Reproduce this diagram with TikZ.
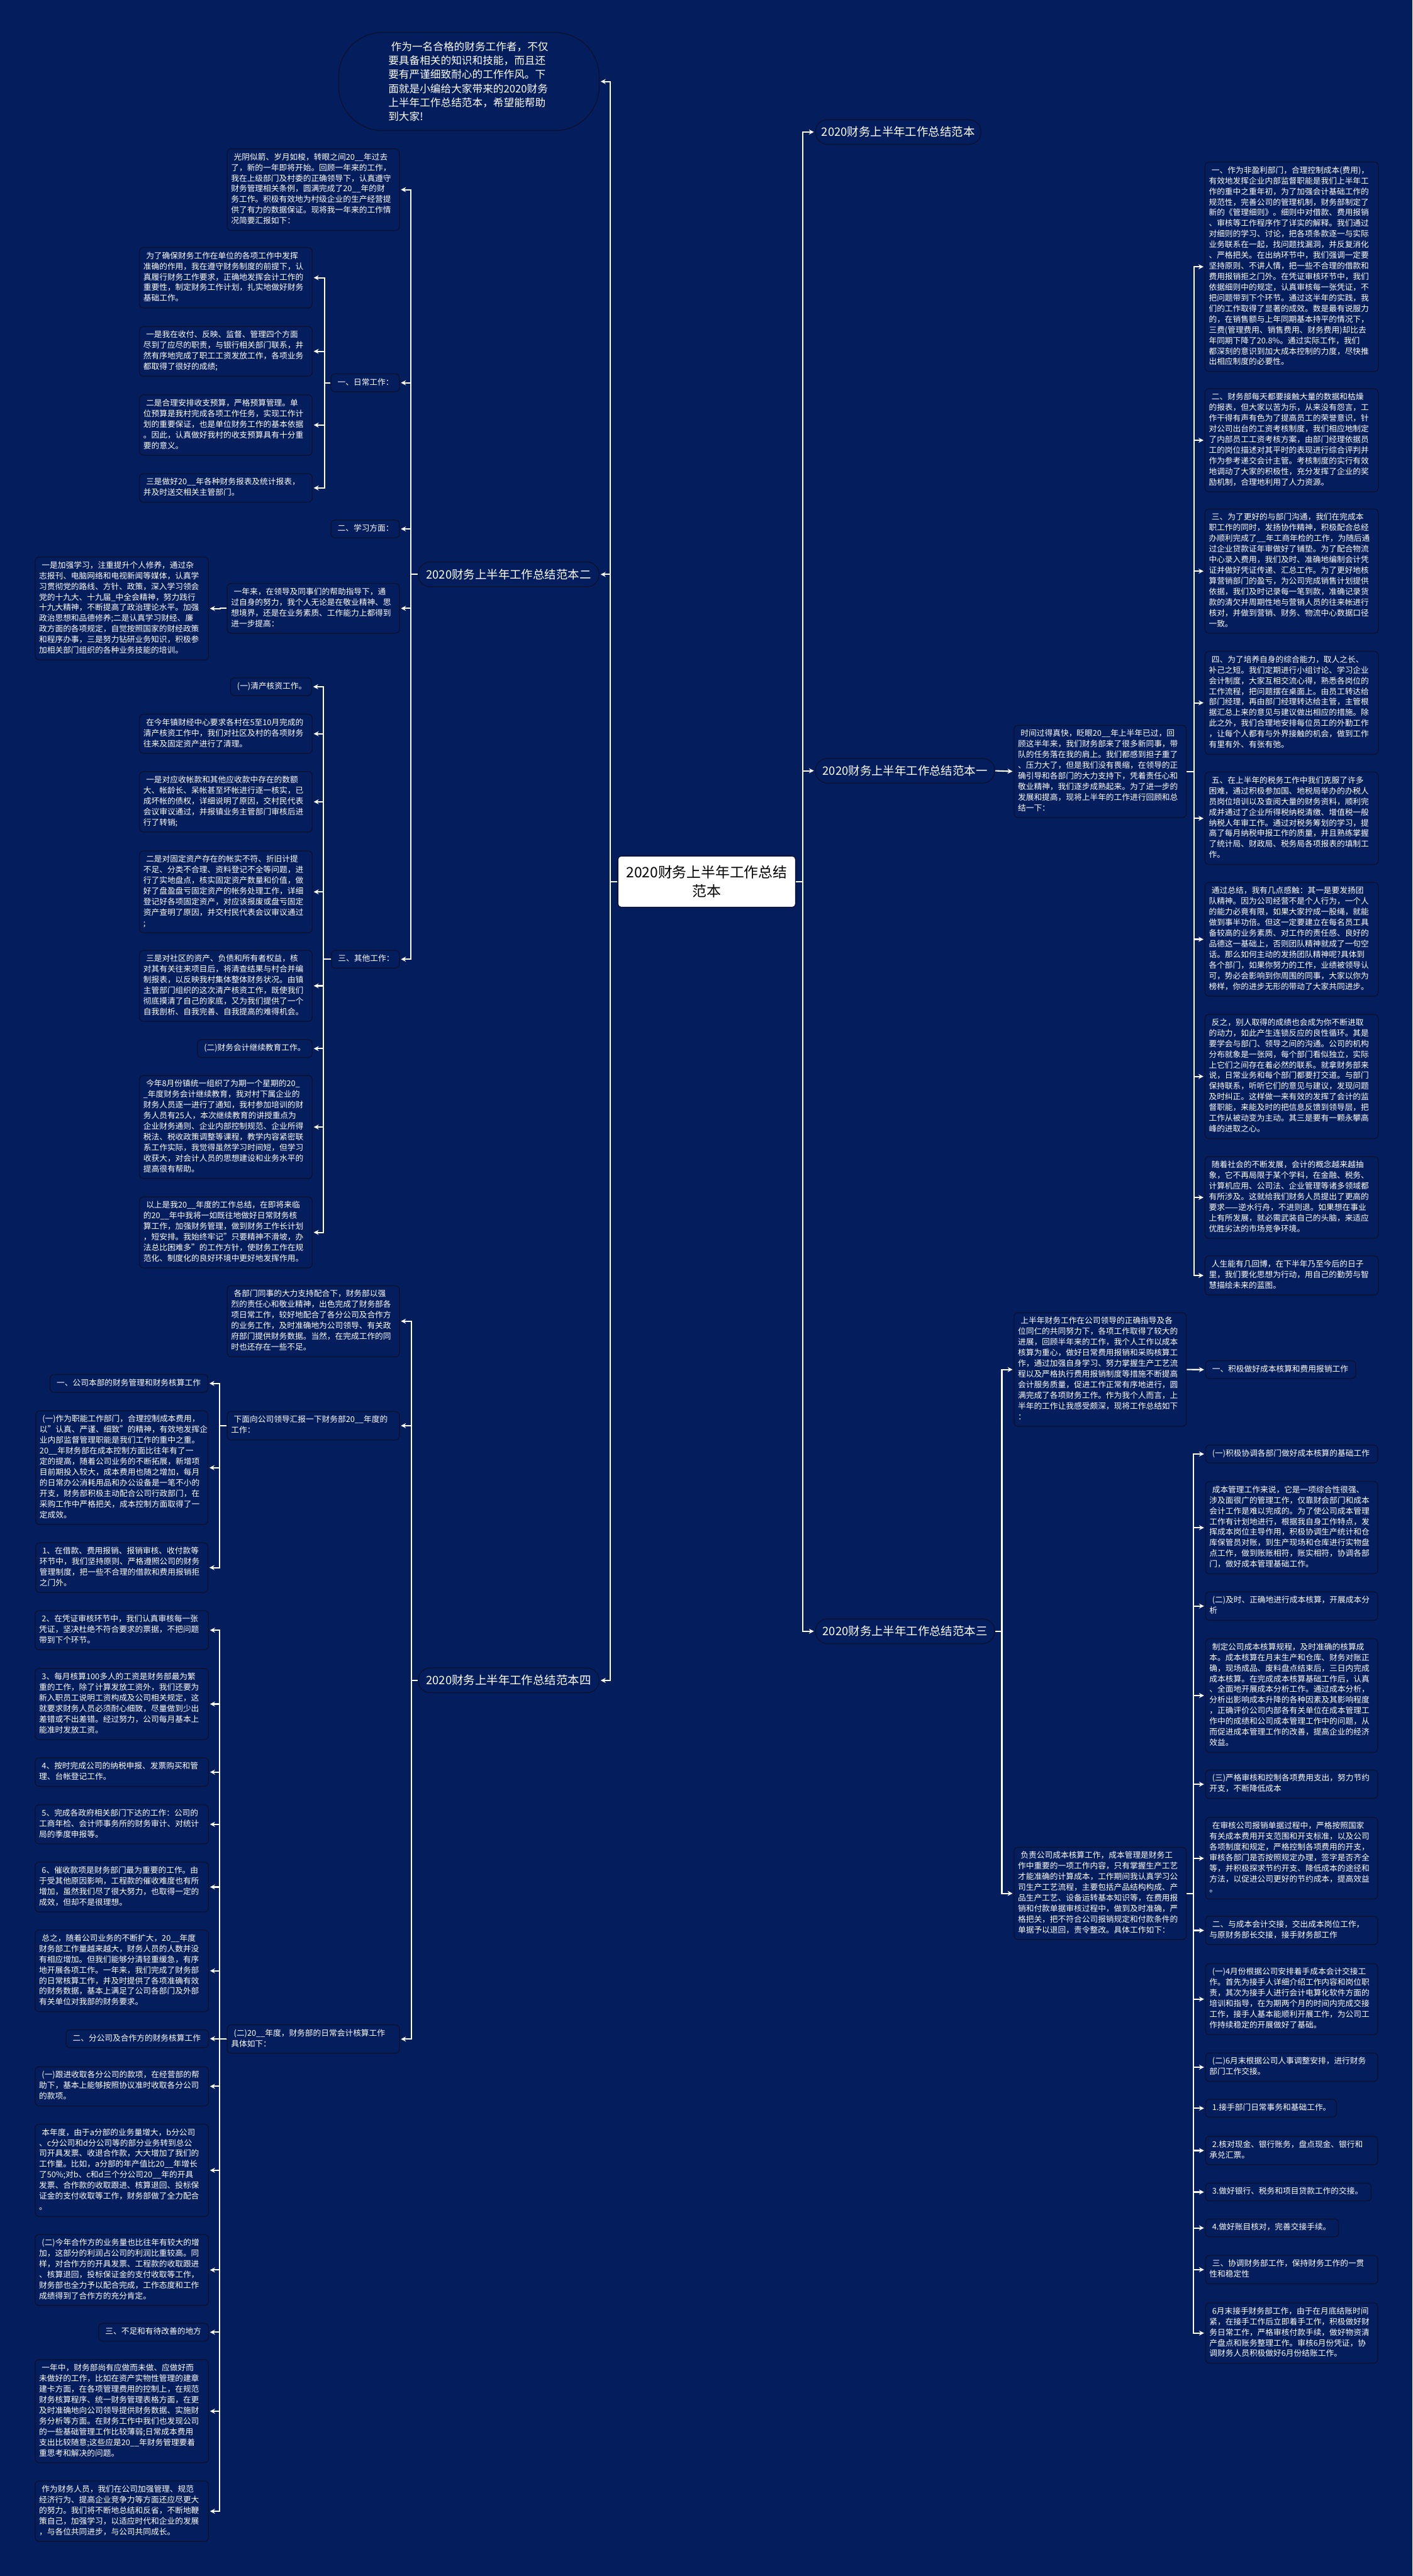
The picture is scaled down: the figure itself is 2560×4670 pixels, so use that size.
\documentclass[tikz,border=0pt]{standalone}
\usepackage{fontspec}
\setmainfont{Noto Sans CJK SC}
\usetikzlibrary{arrows.meta}
\definecolor{bg}{HTML}{041D5C}
\definecolor{bd}{HTML}{0B1234}
\newcommand\myind{\hspace*{5pt}}
\setlength\parindent{0pt}
\begin{document}
\begin{tikzpicture}[x=1pt,y=-1pt,
  box/.style={draw=bd, line width=1.6pt, rounded corners=7pt, fill=bg, text=white,
    font=\fontsize{14.5}{19.3}\selectfont, align=left, inner xsep=7pt, inner ysep=6.5pt,
    anchor=north west, execute at begin node=\strut, execute at end node=\strut},
  tw/.style={text width=#1pt},
  branch/.style={draw=bd, line width=1.6pt, rounded corners=22pt, fill=bg, text=white,
    font=\fontsize{21}{25}\selectfont, anchor=north west, minimum height=45pt, inner sep=0pt},
  conn/.style={draw=white, line width=2.4pt, -{Stealth[length=9pt,width=9pt]}, shorten >=2pt}
]
\fill[bg] (0,0) rectangle (2560,4670);
\useasboundingbox (0,0) rectangle (2560,4670);

% ---------- centre and branches ----------
\node[draw=bd, line width=1.6pt, rounded corners=6pt, fill=white, text=black,
  font=\fontsize{26}{34}\selectfont, align=center, anchor=north west,
  minimum width=322pt, minimum height=93pt] (center) at (1119,1551)
  {2020财务上半年工作总结\\范本};

\node[draw=bd, line width=1.6pt, rounded corners=80pt, fill=bg, text=white,
  font=\fontsize{19}{25.5}\selectfont, align=left, text width=292pt,
  minimum width=472pt, minimum height=178pt, anchor=north west] (ell) at (613,58)
  {\myind 作为一名合格的财务工作者，不仅\\要具备相关的知识和技能，而且还\\要有严谨细致耐心的工作作风。下\\面就是小编给大家带来的2020财务\\上半年工作总结范本，希望能帮助\\到大家!};

\node[branch, minimum width=328pt] (fb2) at (757,1018) {2020财务上半年工作总结范本二};
\node[branch, minimum width=328pt] (fb4) at (757,3023) {2020财务上半年工作总结范本四};
\node[branch, minimum width=300pt] (fb0) at (1477,216) {2020财务上半年工作总结范本};
\node[branch, minimum width=325pt] (fb1) at (1477,1374) {2020财务上半年工作总结范本一};
\node[branch, minimum width=325pt] (fb3) at (1477,2934) {2020财务上半年工作总结范本三};

% ---------- 范本二 ----------
\node[box,tw=298] (gy) at (411,269) {\myind 光阴似箭、岁月如梭，转眼之间20\_\_年过去\\了，新的一年即将开始。回顾一年来的工作，\\我在上级部门及村委的正确领导下，认真遵守\\财务管理相关条例，圆满完成了20\_\_年的财\\务工作。积极有效地为村级企业的生产经营提\\供了有力的数据保证。现将我一年来的工作情\\况简要汇报如下：};
\node[box,tw=110] (rc) at (599,677) {\myind 一、日常工作：};
\node[box,tw=110] (xx) at (599,942) {\myind 二、学习方面：};
\node[box,tw=298] (ynl) at (411,1057) {\myind 一年来，在领导及同事们的帮助指导下，通\\过自身的努力，我个人无论是在敬业精神、思\\想境界，还是在业务素质、工作能力上都得到\\进一步提高：};
\node[box,tw=300] (jq) at (63,1009) {\myind 一是加强学习，注重提升个人修养，通过杂\\志报刊、电脑网络和电视新闻等媒体，认真学\\习贯彻党的路线、方针、政策，深入学习领会\\党的十九大、十九届\_中全会精神，努力践行\\十九大精神，不断提高了政治理论水平。加强\\政治思想和品德修养;二是认真学习财经、廉\\政方面的各项规定，自觉按照国家的财经政策\\和程序办事，三是努力钻研业务知识，积极参\\加相关部门组织的各种业务技能的培训。};
\node[box,tw=109] (qt) at (600,1722) {\myind 三、其他工作：};

\node[box,tw=299] (wl) at (252,448) {\myind 为了确保财务工作在单位的各项工作中发挥\\准确的作用，我在遵守财务制度的前提下，认\\真履行财务工作要求，正确地发挥会计工作的\\重要性，制定财务工作计划，扎实地做好财务\\基础工作。};
\node[box,tw=299] (ys) at (252,591) {\myind 一是我在收付、反映、监督、管理四个方面\\尽到了应尽的职责，与银行相关部门联系，井\\然有序地完成了职工工资发放工作，各项业务\\都取得了很好的成绩;};
\node[box,tw=299] (eh) at (252,715) {\myind 二是合理安排收支预算，严格预算管理。单\\位预算是我村完成各项工作任务，实现工作计\\划的重要保证，也是单位财务工作的基本依据\\。因此，认真做好我村的收支预算具有十分重\\要的意义。};
\node[box,tw=299] (sz) at (252,858) {\myind 三是做好20\_\_年各种财务报表及统计报表，\\并及时送交相关主管部门。};

\node[box,tw=133] (qc) at (417,1228) {\myind (一)清产核资工作。};
\node[box,tw=299] (jn) at (252,1294) {\myind 在今年镇财经中心要求各村在5至10月完成的\\清产核资工作中，我们对社区及村的各项财务\\往来及固定资产进行了清理。};
\node[box,tw=299] (ysd) at (252,1398) {\myind 一是对应收帐款和其他应收款中存在的数额\\大、帐龄长、呆帐甚至坏帐进行逐一核实，已\\成坏帐的债权，详细说明了原因，交村民代表\\会议审议通过，并报镇业务主管部门审核后进\\行了转销;};
\node[box,tw=299] (esd) at (252,1542) {\myind 二是对固定资产存在的帐实不符、折旧计提\\不足、分类不合理、资料登记不全等问题，进\\行了实地盘点，核实固定资产数量和价值，做\\好了盘盈盘亏固定资产的帐务处理工作，详细\\登记好各项固定资产，对应该报废或盘亏固定\\资产查明了原因，并交村民代表会议审议通过\\;};
\node[box,tw=299] (ssd) at (252,1722) {\myind 三是对社区的资产、负债和所有者权益，核\\对其有关往来项目后，将清查结果与村合并编\\制报表，以反映我村集体整体财务状况。由镇\\主管部门组织的这次清产核资工作，既使我们\\彻底摸清了自己的家底，又为我们提供了一个\\自我剖析、自我完善、自我提高的难得机会。};
\node[box,tw=194] (ej) at (357,1884) {\myind (二)财务会计继续教育工作。};
\node[box,tw=299] (jn8) at (252,1949) {\myind 今年8月份镇统一组织了为期一个星期的20\_\\\_年度财务会计继续教育，我对村下属企业的\\财务人员逐一进行了通知，我村参加培训的财\\务人员有25人，本次继续教育的讲授重点为\\企业财务通则、企业内部控制规范、企业所得\\税法、税收政策调整等课程，教学内容紧密联\\系工作实际，我觉得虽然学习时间短，但学习\\收获大，对会计人员的思想建设和业务水平的\\提高很有帮助。};
\node[box,tw=299] (ysw) at (252,2169) {\myind 以上是我20\_\_年度的工作总结，在即将来临\\的20\_\_年中我将一如既往地做好日常财务核\\算工作，加强财务管理，做到财务工作长计划\\，短安排。我始终牢记"只要精神不滑坡，办\\法总比困难多"的工作方针，使财务工作在规\\范化、制度化的良好环境中更好地发挥作用。};

% ---------- 范本四 ----------
\node[box,tw=298] (gbm) at (411,2330) {\myind 各部门同事的大力支持配合下，财务部以强\\烈的责任心和敬业精神，出色完成了财务部各\\项日常工作，较好地配合了各分公司及合作方\\的业务工作，及时准确地为公司领导、有关政\\府部门提供财务数据。当然，在完成工作的同\\时也还存在一些不足。};
\node[box,tw=298] (xmx) at (411,2558) {\myind 下面向公司领导汇报一下财务部20\_\_年度的\\工作：};
\node[box,tw=298] (ernd) at (411,3670) {\myind (二)20\_\_年度，财务部的日常会计核算工作\\具体如下：};

\node[box,tw=272] (gsbb) at (90,2491) {\myind 一、公司本部的财务管理和财务核算工作};
\node[box,tw=298] (zn) at (64,2557) {\myind (一)作为职能工作部门，合理控制成本费用，\\以"认真、严谨、细致"的精神，有效地发挥企\\业内部监督管理职能是我们工作的重中之重。\\20\_\_年财务部在成本控制方面比往年有了一\\定的提高，随着公司业务的不断拓展，新增项\\目前期投入较大，成本费用也随之增加，每月\\的日常办公消耗用品和办公设备是一笔不小的\\开支，财务部积极主动配合公司行政部门，在\\采购工作中严格把关，成本控制方面取得了一\\定成效。};
\node[box,tw=298] (j1) at (64,2796) {\myind 1、在借款、费用报销、报销审核、收付款等\\环节中，我们坚持原则、严格遵照公司的财务\\管理制度，把一些不合理的借款和费用报销拒\\之门外。};

\node[box,tw=300] (j2) at (63,2919) {\myind 2、在凭证审核环节中，我们认真审核每一张\\凭证，坚决杜绝不符合要求的票据，不把问题\\带到下个环节。};
\node[box,tw=300] (j3) at (63,3024) {\myind 3、每月核算100多人的工资是财务部最为繁\\重的工作，除了计算发放工资外，我们还要为\\新入职员工说明工资构成及公司相关规定，这\\就要求财务人员必须耐心细致，尽量做到少出\\差错或不出差错。经过努力，公司每月基本上\\能准时发放工资。};
\node[box,tw=300] (j4) at (63,3186) {\myind 4、按时完成公司的纳税申报、发票购买和管\\理、台帐登记工作。};
\node[box,tw=300] (j5) at (63,3271) {\myind 5、完成各政府相关部门下达的工作：公司的\\工商年检、会计师事务所的财务审计、对统计\\局的季度申报等。};
\node[box,tw=300] (j6) at (63,3375) {\myind 6、催收款项是财务部门最为重要的工作。由\\于受其他原因影响，工程款的催收难度也有所\\增加，虽然我们尽了很大努力，也取得一定的\\成效，但却不是很理想。};
\node[box,tw=300] (zz) at (63,3498) {\myind 总之，随着公司业务的不断扩大，20\_\_年度\\财务部工作量越来越大，财务人员的人数并没\\有相应增加。但我们能够分清轻重缓急，有序\\地开展各项工作。一年来，我们完成了财务部\\的日常核算工作，并及时提供了各项准确有效\\的财务数据，基本上满足了公司各部门及外部\\有关单位对我部的财务要求。};
\node[box,tw=244] (fgs) at (119,3679) {\myind 二、分公司及合作方的财务核算工作};
\node[box,tw=300] (gj) at (63,3746) {\myind (一)跟进收取各分公司的款项，在经营部的帮\\助下，基本上能够按照协议准时收取各分公司\\的款项。};
\node[box,tw=300] (bnd) at (63,3850) {\myind 本年度，由于a分部的业务量增大，b分公司\\、c分公司和d分公司等的部分业务转到总公\\司开具发票、收退合作款，大大增加了我们的\\工作量。比如，a分部的年产值比20\_\_年增长\\了50\%;对b、c和d三个分公司20\_\_年的开具\\发票、合作款的收取跟进、核算退回、投标保\\证金的支付收取等工作，财务部做了全力配合\\。};
\node[box,tw=300] (hzf) at (63,4050) {\myind (二)今年合作方的业务量也比往年有较大的增\\加，这部分的利润占公司的利润比重较高。同\\样，对合作方的开具发票、工程款的收取跟进\\、核算退回，投标保证金的支付收取等工作，\\财务部也全力予以配合完成，工作态度和工作\\成绩得到了合作方的充分肯定。};
\node[box,tw=185] (bz) at (178,4211) {\myind 三、不足和有待改善的地方};
\node[box,tw=300] (ynz) at (63,4277) {\myind 一年中，财务部尚有应做而未做、应做好而\\未做好的工作，比如在资产实物性管理的建章\\建卡方面，在各项管理费用的控制上，在规范\\财务核算程序、统一财务管理表格方面，在更\\及时准确地向公司领导提供财务数据、实施财\\务分析等方面。在财务工作中我们也发现公司\\的一些基础管理工作比较薄弱;日常成本费用\\支出比较随意;这些应是20\_\_年财务管理要着\\重思考和解决的问题。};
\node[box,tw=300] (cw) at (63,4497) {\myind 作为财务人员，我们在公司加强管理、规范\\经济行为、提高企业竞争力等方面还应尽更大\\的努力。我们将不断地总结和反省，不断地鞭\\策自己，加强学习，以适应时代和企业的发展\\，与各位共同进步，与公司共同成长。};

% ---------- 范本一 ----------
\node[box,tw=298] (sj) at (1837,1314) {\myind 时间过得真快，眨眼20\_\_年上半年已过，回\\顾这半年来，我们财务部来了很多新同事，带\\队的任务落在我的肩上。我们都感到担子重了\\、压力大了，但是我们没有畏缩，在领导的正\\确引导和各部门的大力支持下，凭着责任心和\\敬业精神，我们逐步成熟起来。为了进一步的\\发展和提高，现将上半年的工作进行回顾和总\\结一下：};
\node[box,tw=300] (r1) at (2183,293) {\myind 一、作为非盈利部门，合理控制成本(费用)，\\有效地发挥企业内部监督职能是我们上半年工\\作的重中之重年初，为了加强会计基础工作的\\规范性，完善公司的管理机制，财务部制定了\\新的《管理细则》。细则中对借款、费用报销\\、审核等工作程序作了详实的解释。我们通过\\对细则的学习、讨论，把各项条款逐一与实际\\业务联系在一起，找问题找漏洞，并反复消化\\、严格把关。在出纳环节中，我们强调一定要\\坚持原则、不讲人情，把一些不合理的借款和\\费用报销拒之门外。在凭证审核环节中，我们\\依据细则中的规定，认真审核每一张凭证，不\\把问题带到下个环节。通过这半年的实践，我\\们的工作取得了显著的成效。数是最有说服力\\的，在销售额与上年同期基本持平的情况下，\\三费(管理费用、销售费用、财务费用)却比去\\年同期下降了20.8\%。通过实际工作，我们\\都深刻的意识到加大成本控制的力度，尽快推\\出相应制度的必要性。};
\node[box,tw=300] (r2) at (2183,704) {\myind 二、财务部每天都要接触大量的数据和枯燥\\的报表，但大家以苦为乐，从来没有怨言，工\\作干得有声有色为了提高员工的荣誉意识，针\\对公司出台的工资考核制度，我们相应地制定\\了内部员工工资考核方案，由部门经理依据员\\工的岗位描述对其平时的表现进行综合评判并\\作为参考递交会计主管。考核制度的实行有效\\地调动了大家的积极性，充分发挥了企业的奖\\励机制，合理地利用了人力资源。};
\node[box,tw=300] (r3) at (2183,922) {\myind 三、为了更好的与部门沟通，我们在完成本\\职工作的同时，发扬协作精神，积极配合总经\\办顺利完成了\_\_年工商年检的工作，为随后通\\过企业贷款证年审做好了铺垫。为了配合物流\\中心录入费用，我们及时、准确地编制会计凭\\证并做好凭证传递、汇总工作。为了更好地核\\算营销部门的盈亏，为公司完成销售计划提供\\依据，我们及时记录每一笔到款，准确记录货\\款的清欠并周期性地与营销人员的往来帐进行\\核对，并做到营销、财务、物流中心数据口径\\一致。};
\node[box,tw=300] (r4) at (2183,1180) {\myind 四、为了培养自身的综合能力，取人之长、\\补己之短。我们定期进行小组讨论、学习企业\\会计制度，大家互相交流心得，熟悉各岗位的\\工作流程，把问题摆在桌面上。由员工转达给\\部门经理，再由部门经理转达给主管，主管根\\据汇总上来的意见与建议做出相应的措施。除\\此之外，我们合理地安排每位员工的外勤工作\\，让每个人都有与外界接触的机会，做到工作\\有里有外、有张有弛。};
\node[box,tw=300] (r5) at (2183,1399) {\myind 五、在上半年的税务工作中我们克服了许多\\困难，通过积极参加国、地税局举办的办税人\\员岗位培训以及查阅大量的财务资料，顺利完\\成并通过了企业所得税纳税清缴、增值税一般\\纳税人年审工作。通过对税务筹划的学习，提\\高了每月纳税申报工作的质量，并且熟练掌握\\了统计局、财政局、税务局各项报表的填制工\\作。};
\node[box,tw=300] (r6) at (2183,1599) {\myind 通过总结，我有几点感触：其一是要发扬团\\队精神。因为公司经营不是个人行为，一个人\\的能力必竟有限，如果大家拧成一股绳，就能\\做到事半功倍。但这一定要建立在每名员工具\\备较高的业务素质、对工作的责任感、良好的\\品德这一基础上，否则团队精神就成了一句空\\话。那么如何主动的发扬团队精神呢?具体到\\各个部门，如果你努力的工作，业绩被领导认\\可，势必会影响到你周围的同事，大家以你为\\榜样，你的进步无形的带动了大家共同进步。};
\node[box,tw=300] (r7) at (2183,1838) {\myind 反之，别人取得的成绩也会成为你不断进取\\的动力，如此产生连锁反应的良性循环。其是\\要学会与部门、领导之间的沟通。公司的机构\\分布就象是一张网，每个部门看似独立，实际\\上它们之间存在着必然的联系。就拿财务部来\\说，日常业务和每个部门都要打交道。与部门\\保持联系，听听它们的意见与建议，发现问题\\及时纠正。这样做一来有效的发挥了会计的监\\督职能，来能及时的把信息反馈到领导层，把\\工作从被动变为主动。其三是要有一颗永攀高\\峰的进取之心。};
\node[box,tw=300] (r8) at (2183,2096) {\myind 随着社会的不断发展，会计的概念越来越抽\\象，它不再局限于某个学科，在金融、税务、\\计算机应用、公司法、企业管理等诸多领域都\\有所涉及。这就给我们财务人员提出了更高的\\要求——逆水行舟，不进则退。如果想在事业\\上有所发展，就必需武装自己的头脑，来适应\\优胜劣汰的市场竞争环境。};
\node[box,tw=300] (r9) at (2183,2276) {\myind 人生能有几回博，在下半年乃至今后的日子\\里，我们要化思想为行动，用自己的勤劳与智\\慧描绘未来的蓝图。};

% ---------- 范本三 ----------
\node[box,tw=298] (sbn) at (1837,2379) {\myind 上半年财务工作在公司领导的正确指导及各\\位同仁的共同努力下，各项工作取得了较大的\\进展，回顾半年来的工作，我个人工作以成本\\核算为重心，做好日常费用报销和采购核算工\\作，通过加强自身学习、努力掌握生产工艺流\\程以及严格执行费用报销制度等措施不断提高\\会计服务质量，促进工作正常有序地进行，圆\\满完成了各项财务工作。作为我个人而言，上\\半年的工作让我感受颇深，现将工作总结如下\\：};
\node[box,tw=258] (jj) at (2184,2466) {\myind 一、积极做好成本核算和费用报销工作};
\node[box,tw=298] (fz) at (1837,3348) {\myind 负责公司成本核算工作，成本管理是财务工\\作中重要的一项工作内容，只有掌握生产工艺\\才能准确的计算成本，工作期间我认真学习公\\司生产工艺流程，主要包括产品结构构成、产\\品生产工艺、设备运转基本知识等，在费用报\\销和付款单据审核过程中，做到及时准确，严\\格把关，把不符合公司报销规定和付款条件的\\单据予以退回，责令整改。具体工作如下：};

\node[box,tw=298] (c1) at (2184,2619) {\myind (一)积极协调各部门做好成本核算的基础工作};
\node[box,tw=298] (c2) at (2184,2685) {\myind 成本管理工作来说，它是一项综合性很强、\\涉及面很广的管理工作，仅靠财会部门和成本\\会计工作是难以完成的。为了使公司成本管理\\工作有计划地进行，根据我自身工作特点，发\\挥成本岗位主导作用，积极协调生产统计和仓\\库保管员对账，到生产现场和仓库进行实物盘\\点工作，做到账账相符，账实相符，协调各部\\门，做好成本管理基础工作。};
\node[box,tw=298] (c3) at (2184,2885) {\myind (二)及时、正确地进行成本核算，开展成本分\\析};
\node[box,tw=298] (c4) at (2184,2970) {\myind 制定公司成本核算规程，及时准确的核算成\\本。成本核算在月末生产和仓库、财务对账正\\确，现场成品、废料盘点结束后，三日内完成\\成本核算。在完成成本核算基础工作后，认真\\、全面地开展成本分析工作。通过成本分析，\\分析出影响成本升降的各种因素及其影响程度\\，正确评价公司内部各有关单位在成本管理工\\作中的成绩和公司成本管理工作中的问题，从\\而促进成本管理工作的改善，提高企业的经济\\效益。};
\node[box,tw=298] (c5) at (2184,3208) {\myind (三)严格审核和控制各项费用支出，努力节约\\开支，不断降低成本};
\node[box,tw=298] (c6) at (2184,3294) {\myind 在审核公司报销单据过程中，严格按照国家\\有关成本费用开支范围和开支标准，以及公司\\各项制度和规定，严格控制各项费用的开支，\\审核各部门是否按照规定办理，签字是否齐全\\等，并积极探求节约开支、降低成本的途径和\\方法，以促进公司更好的节约成本，提高效益\\。};
\node[box,tw=298] (c7) at (2184,3473) {\myind 二、与成本会计交接，交出成本岗位工作，\\与原财务部长交接，接手财务部工作};
\node[box,tw=298] (c8) at (2184,3559) {\myind (一)4月份根据公司安排着手成本会计交接工\\作。首先为接手人详细介绍工作内容和岗位职\\责，其次为接手人进行会计电算化软件方面的\\培训和指导，在为期两个月的时间内完成交接\\工作，接手人基本能顺利开展工作，为公司工\\作持续稳定的开展做好了基础。};
\node[box,tw=298] (c9) at (2184,3721) {\myind (二)6月末根据公司人事调整安排，进行财务\\部门工作交接。};
\node[box,tw=223] (c10) at (2184,3805) {\myind 1.接手部门日常事务和基础工作。};
\node[box,tw=298] (c11) at (2184,3872) {\myind 2.核对现金、银行账务，盘点现金、银行和\\承兑汇票。};
\node[box,tw=286] (c12) at (2184,3957) {\myind 3.做好银行、税务和项目贷款工作的交接。};
\node[box,tw=227] (c13) at (2184,4022) {\myind 4.做好账目核对，完善交接手续。};
\node[box,tw=298] (c14) at (2184,4088) {\myind 三、协调财务部工作，保持财务工作的一贯\\性和稳定性};
\node[box,tw=298] (c15) at (2184,4174) {\myind 6月末接手财务部工作，由于在月底结账时间\\紧，在接手工作后立即着手工作，积极做好财\\务日常工作，严格审核付款手续，做好物资清\\产盘点和账务整理工作。审核6月份凭证，协\\调财务人员积极做好6月份结账工作。};

% ---------- connectors ----------
\foreach \c in {ell,fb2,fb4} \draw[conn] (center.west) -- ++(-13,0) |- (\c.east);
\foreach \c in {fb0,fb1,fb3} \draw[conn] (center.east) -- ++(12,0) |- (\c.west);
\foreach \c in {gy,rc,xx,ynl,qt} \draw[conn] (fb2.west) -- ++(-12,0) |- (\c.east);
\foreach \c in {wl,ys,eh,sz} \draw[conn] (rc.west) -- ++(-11,0) |- (\c.east);
\draw[conn] (ynl.west) -- ++(-12,0) |- (jq.east);
\foreach \c in {qc,jn,ysd,esd,ssd,ej,jn8,ysw} \draw[conn] (qt.west) -- ++(-14,0) |- (\c.east);
\foreach \c in {gbm,xmx,ernd} \draw[conn] (fb4.west) -- ++(-11,0) |- (\c.east);
\foreach \c in {gsbb,zn,j1} \draw[conn] (xmx.west) -- ++(-13,0) |- (\c.east);
\foreach \c in {j2,j3,j4,j5,j6,zz,fgs,gj,bnd,hzf,bz,ynz,cw} \draw[conn] (ernd.west) -- ++(-13,0) |- (\c.east);
\draw[conn] (fb1.east) -- (sj.west);
\foreach \c in {r1,r2,r3,r4,r5,r6,r7,r8,r9} \draw[conn] (sj.east) -- ++(13,0) |- (\c.west);
\foreach \c in {sbn,fz} \draw[conn] (fb3.east) -- ++(12,0) |- (\c.west);
\draw[conn] (sbn.east) -- (jj.west);
\foreach \c in {c1,c2,c3,c4,c5,c6,c7,c8,c9,c10,c11,c12,c13,c14,c15} \draw[conn] (fz.east) -- ++(12,0) |- (\c.west);
\end{tikzpicture}
\end{document}
